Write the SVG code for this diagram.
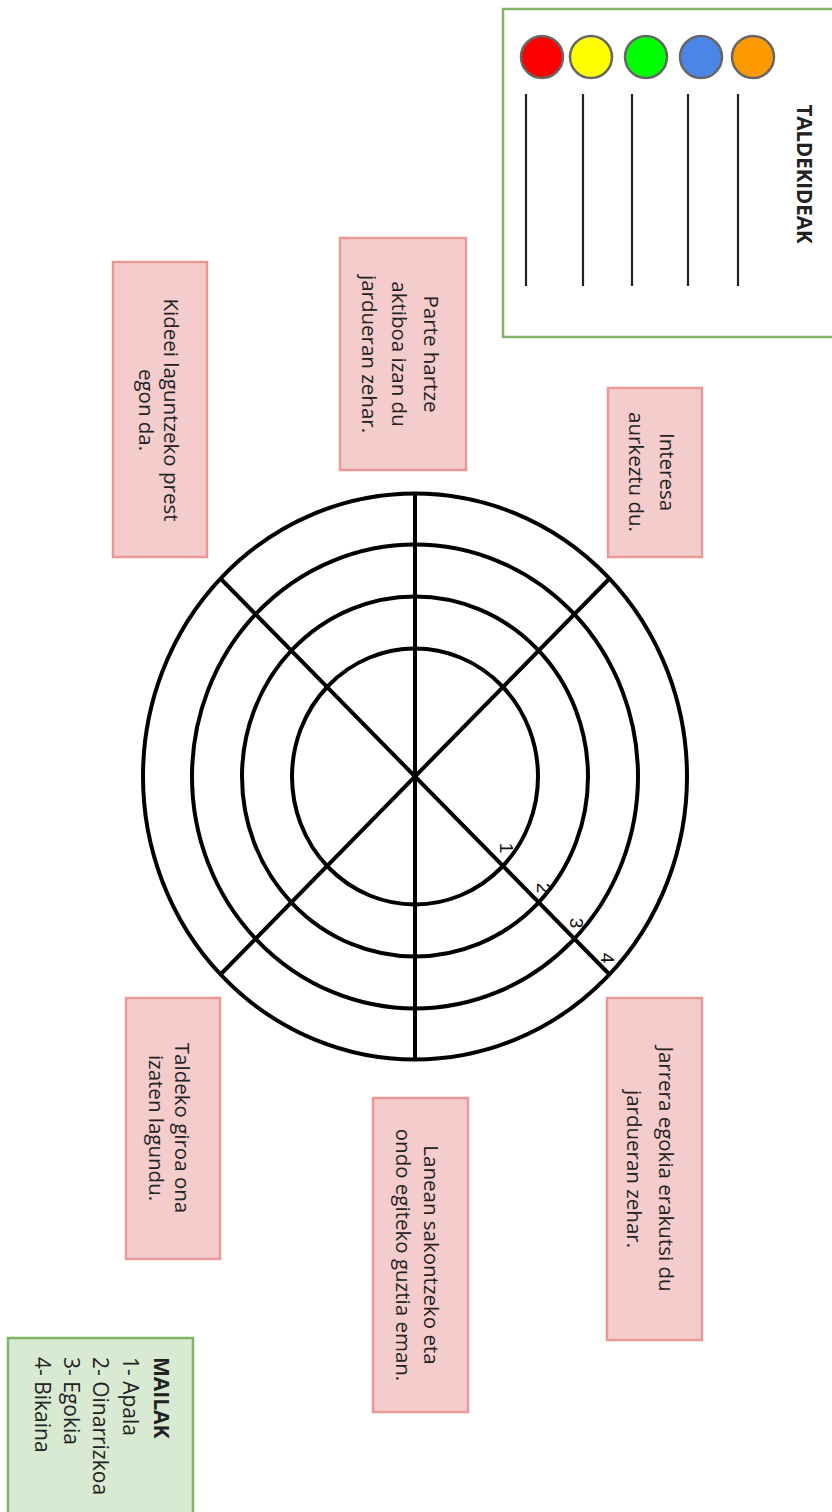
<svg xmlns="http://www.w3.org/2000/svg" width="832" height="1512" viewBox="0 0 832 1512">
<style>
.t{font-family:"Open Sans","Noto Sans",sans-serif;font-size:20.5px;fill:#222;text-anchor:middle;dominant-baseline:central}
.m{font-size:21px;text-anchor:start}
.b{font-weight:bold}
.pink{fill:#f4cccc;stroke:#ea9999;stroke-width:2.5}
.green{stroke:#82b366;stroke-width:2.5}
.ring{fill:none;stroke:#000;stroke-width:4}
.dot{stroke:#666;stroke-width:2.5}
.ln{stroke:#222;stroke-width:2.2}
.num{font-family:"Liberation Sans",sans-serif;font-size:19px;fill:#111;text-anchor:middle;dominant-baseline:central}
</style>
<rect width="832" height="1512" fill="#fff"/>

<g id="taldekideak">
<rect x="503" y="9" width="340" height="328" fill="#fff" class="green"/>
<circle cx="542" cy="57" r="21" fill="#ff0000" class="dot"/>
<circle cx="591" cy="57" r="21" fill="#ffff00" class="dot"/>
<circle cx="646" cy="57" r="21" fill="#00ff00" class="dot"/>
<circle cx="701" cy="57" r="21" fill="#4a86e8" class="dot"/>
<circle cx="753" cy="57" r="21" fill="#ff9900" class="dot"/>
<line x1="526" y1="94" x2="526" y2="286" class="ln"/>
<line x1="583" y1="94" x2="583" y2="286" class="ln"/>
<line x1="632" y1="94" x2="632" y2="286" class="ln"/>
<line x1="688" y1="94" x2="688" y2="286" class="ln"/>
<line x1="738" y1="94" x2="738" y2="286" class="ln"/>
<text class="t b" transform="translate(805,174) rotate(90)">TALDEKIDEAK</text>
</g>

<g id="mailak">
<rect x="8" y="1338" width="185" height="190" fill="#d9ead3" class="green"/>
<g transform="translate(162,1357) rotate(90)">
<text class="t m b" x="0" y="0">MAILAK</text>
<text class="t m" x="0" y="31">1- Apala</text>
<text class="t m" x="0" y="61">2- Oinarrizkoa</text>
<text class="t m" x="0" y="90">3- Egokia</text>
<text class="t m" x="0" y="119">4- Bikaina</text>
</g>
</g>

<g id="wheel">
<ellipse cx="415" cy="776.5" rx="123" ry="128" class="ring"/>
<ellipse cx="415" cy="776.5" rx="173" ry="180" class="ring"/>
<ellipse cx="415" cy="776.5" rx="223" ry="232" class="ring"/>
<ellipse cx="415" cy="776.5" rx="272" ry="283" class="ring"/>
<line x1="415" y1="494" x2="415" y2="1059" class="ring"/>
<line x1="220" y1="578" x2="610" y2="975" class="ring"/>
<line x1="610" y1="578" x2="220" y2="975" class="ring"/>
<text class="num" transform="translate(506,848) rotate(90)">1</text>
<text class="num" transform="translate(543,888) rotate(90)">2</text>
<text class="num" transform="translate(576,923) rotate(90)">3</text>
<text class="num" transform="translate(607,958) rotate(90)">4</text>
</g>

<g id="interesa">
<rect x="608" y="388" width="94" height="169" class="pink"/>
<g transform="translate(653,472) rotate(90)">
<text class="t" x="0" y="-15">Interesa</text>
<text class="t" x="0" y="16">aurkeztu du.</text>
</g>
</g>

<g id="parte">
<rect x="340" y="238" width="126" height="232" class="pink"/>
<g transform="translate(401,354) rotate(90)">
<text class="t" x="0" y="-31">Parte hartze</text>
<text class="t" x="0" y="1">aktiboa izan du</text>
<text class="t" x="0" y="31">jardueran zehar.</text>
</g>
</g>

<g id="kideei">
<rect x="113" y="262" width="94" height="295" class="pink"/>
<g transform="translate(160,410) rotate(90)">
<text class="t" x="0" y="-12">Kideei laguntzeko prest</text>
<text class="t" x="0" y="13">egon da.</text>
</g>
</g>

<g id="jarrera">
<rect x="607" y="998" width="95" height="342" class="pink"/>
<g transform="translate(651,1169) rotate(90)">
<text class="t" x="0" y="-16">Jarrera egokia erakutsi du</text>
<text class="t" x="0" y="16">jardueran zehar.</text>
</g>
</g>

<g id="lanean">
<rect x="373" y="1098" width="95" height="314" class="pink"/>
<g transform="translate(418,1255) rotate(90)">
<text class="t" x="0" y="-14">Lanean sakontzeko eta</text>
<text class="t" x="0" y="14">ondo egiteko guztia eman.</text>
</g>
</g>

<g id="taldeko">
<rect x="126" y="998" width="94" height="261" class="pink"/>
<g transform="translate(170,1128) rotate(90)">
<text class="t" x="0" y="-13">Taldeko giroa ona</text>
<text class="t" x="0" y="13">izaten lagundu.</text>
</g>
</g>

<g id="connectors"></g>
</svg>
